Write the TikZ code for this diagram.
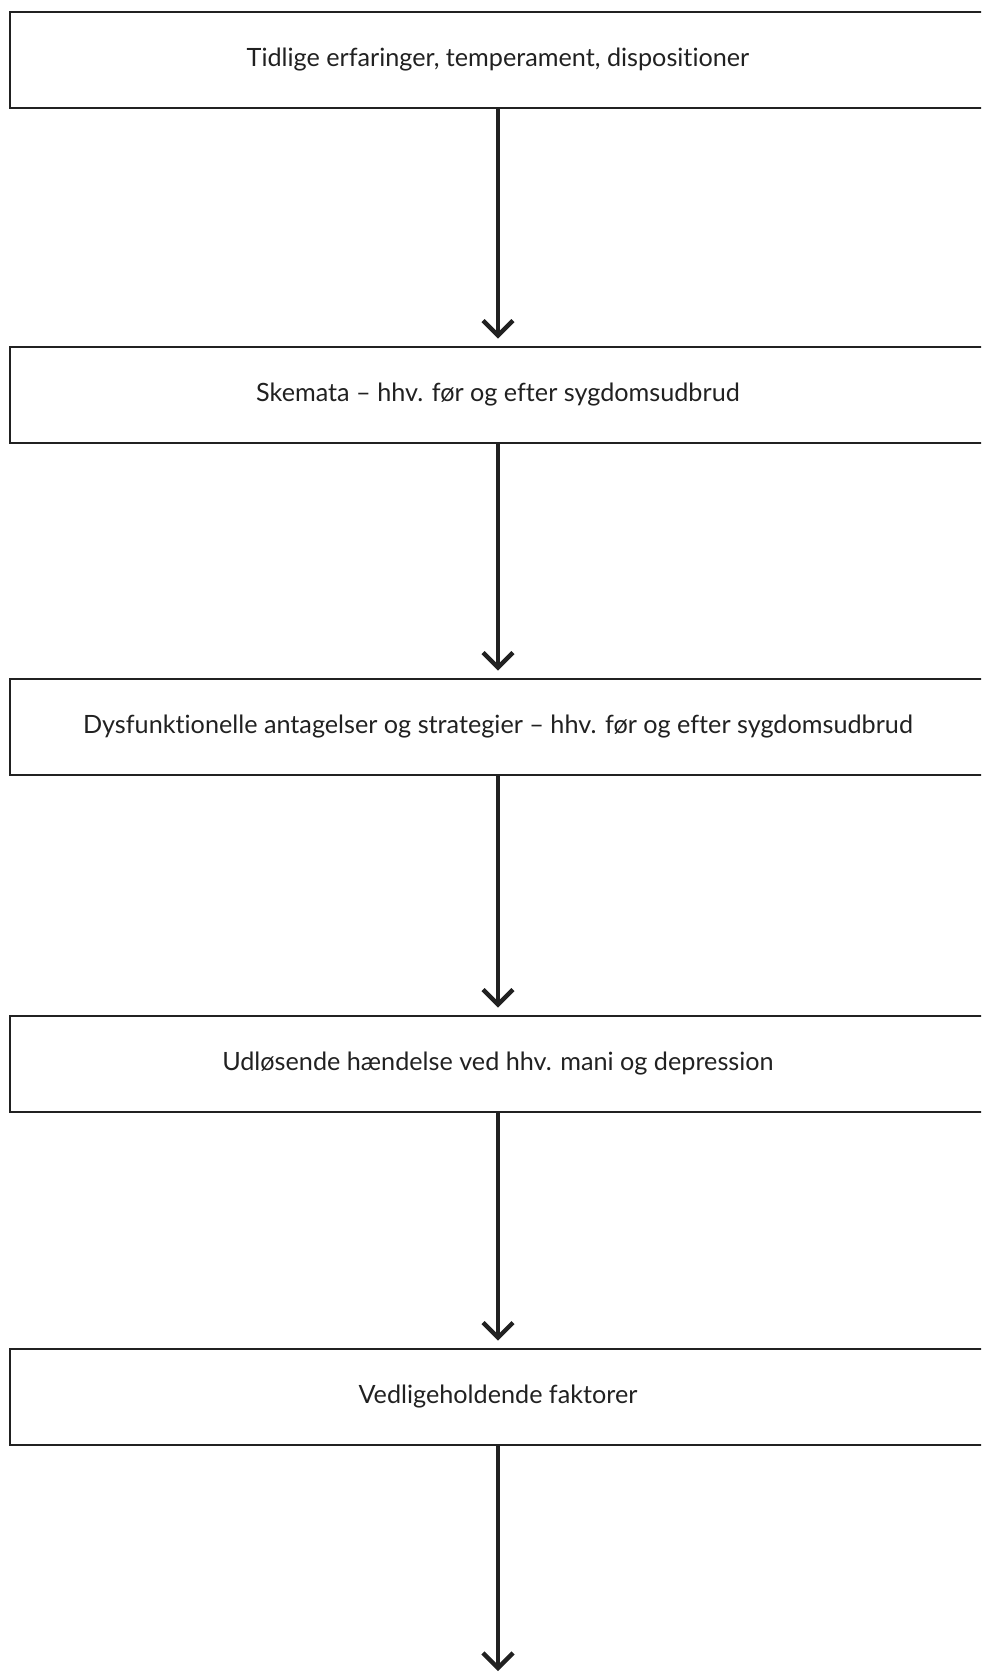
\documentclass[tikz,border=0pt]{standalone}
\usepackage{fontspec}
\setmainfont{Lato}[Ligatures={TeX,NoCommon}]
\usetikzlibrary{arrows.meta}
\definecolor{myblack}{gray}{0.13}

\tikzset{
  box/.style={draw=myblack, line width=1.3pt, minimum width=488pt, minimum height=48pt,
    inner sep=0pt, text=myblack, font=\fontsize{12.6}{14}\selectfont},
  flow/.style={draw=myblack, line width=2.2pt, -{Straight Barb[length=7.5pt,width=15pt]}, shorten >=3.5pt}
}

\begin{document}
\begin{tikzpicture}[x=0.5pt, y=-0.5pt]
    \useasboundingbox (0,0) rectangle (981,1675);
    \clip (0,0) rectangle (981,1675);
    \node[box] (b1) at (498,60) {Tidlige erfaringer, temperament, dispositioner};
    \node[box] (b2) at (498,395) {Skemata – hhv. før og efter sygdomsudbrud};
    \node[box] (b3) at (498,727) {Dysfunktionelle antagelser og strategier – hhv. før og efter sygdomsudbrud};
    \node[box] (b4) at (498,1064) {Udløsende hændelse ved hhv. mani og depression};
    \node[box] (b5) at (498,1397) {Vedligeholdende faktorer};
    \coordinate (end) at (498,1671);
    \draw[flow] (b1) -- (b2);
    \draw[flow] (b2) -- (b3);
    \draw[flow] (b3) -- (b4);
    \draw[flow] (b4) -- (b5);
    \draw[flow, shorten >=0pt] (b5) -- (end);
\end{tikzpicture}
\end{document}
